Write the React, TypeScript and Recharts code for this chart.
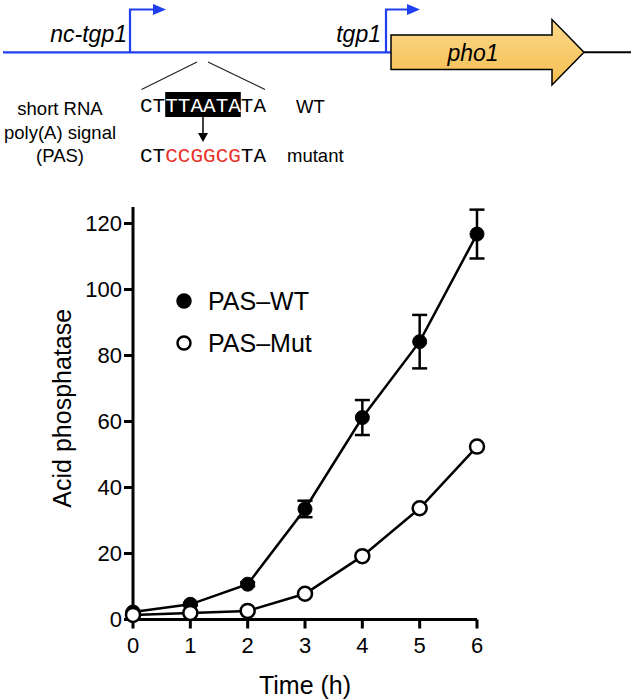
import { LineChart, Line, XAxis, YAxis, ErrorBar, Legend } from "recharts";

const hours = [0, 1, 2, 3, 4, 5, 6];
const pasWt = [2.3, 4.6, 10.7, 33.5, 61.2, 84.2, 116.8];
const pasWtSd = [0.3, 0.4, 0.6, 2.5, 5.3, 8.1, 7.4];
const pasMut = [1.4, 2.0, 2.6, 7.8, 19.2, 33.7, 52.4];
const yTicks = [0, 20, 40, 60, 80, 100, 120];

const data = hours.map((t, i) => ({ t, wt: pasWt[i], wtSd: pasWtSd[i], mut: pasMut[i] }));

const font = "'Liberation Sans', Arial, sans-serif";
const mono = "'Liberation Mono', 'Courier New', monospace";
const blue = "#1f3ff0";

const legendItems = [
  { label: "PAS–WT", fill: "#000" },
  { label: "PAS–Mut", fill: "#fff" },
];

const renderLegend = () => (
  <svg width={170} height={80}>
    {legendItems.map((it, i) => (
      <g key={it.label} transform={`translate(0, ${i * 42})`}>
        <circle cx={14} cy={20} r={6.5} fill={it.fill} stroke="#000" strokeWidth={2.5} />
        <text x={38} y={29} fontSize={25} fontFamily={font} fill="#000">
          {it.label}
        </text>
      </g>
    ))}
  </svg>
);

const YLabel = (props: any) => {
  const { x, y, height } = props.viewBox;
  const cx = x + 22;
  const cy = y + height / 2 - 5;
  return (
    <text
      x={cx}
      y={cy}
      transform={`rotate(-90, ${cx}, ${cy})`}
      textAnchor="middle"
      dominantBaseline="central"
      fontSize={25}
      fontFamily={font}
      fill="#000"
    >
      Acid phosphatase
    </text>
  );
};

// gene schematic above the plot
const Diagram = () => (
  <svg width={633} height={180} style={{ position: "absolute", left: 0, top: 0 }}>
    <line x1={3} y1={52.3} x2={392} y2={52.3} stroke={blue} strokeWidth={2.2} />
    <line x1={584} y1={52.3} x2={631} y2={52.3} stroke="#000" strokeWidth={2} />

    <polyline points="130,52.3 130,9.5 155,9.5" fill="none" stroke={blue} strokeWidth={2.2} />
    <polygon points="153,4 166,9.5 153,15" fill={blue} />
    <polyline points="386,52.3 386,9.5 409,9.5" fill="none" stroke={blue} strokeWidth={2.2} />
    <polygon points="407,4 420,9.5 407,15" fill={blue} />

    <defs>
      <linearGradient id="pho" x1="0" y1="0" x2="0" y2="1">
        <stop offset="0" stopColor="#fcd98a" />
        <stop offset="1" stopColor="#f5bd50" />
      </linearGradient>
    </defs>
    <polygon
      points="391,35 552,35 552,19.5 584,52.3 552,85 552,69.5 391,69.5"
      fill="url(#pho)"
      stroke="#000"
      strokeWidth={1.5}
    />
    <text x={473} y={61} textAnchor="middle" fontSize={23} fontStyle="italic" fontFamily={font}>
      pho1
    </text>
    <text x={127} y={42} textAnchor="end" fontSize={23} fontStyle="italic" fontFamily={font}>
      nc-tgp1
    </text>
    <text x={381} y={42} textAnchor="end" fontSize={23} fontStyle="italic" fontFamily={font}>
      tgp1
    </text>

    <line x1={197} y1={62} x2={141.5} y2={89.5} stroke="#222" strokeWidth={1.2} />
    <line x1={208} y1={62} x2={265} y2={89.5} stroke="#222" strokeWidth={1.2} />

    <rect x={165.2} y={92} width={75.6} height={25} fill="#000" />
    <text x={140} y={111.5} fontSize={21} fontFamily={mono} fill="#000">
      CT<tspan fill="#fff">TTAATA</tspan>TA
    </text>
    <line x1={203} y1={117} x2={203} y2={134} stroke="#000" strokeWidth={1.5} />
    <polygon points="198,133 208,133 203,142" fill="#000" />
    <text x={140} y={161.5} fontSize={21} fontFamily={mono} fill="#000">
      CT<tspan fill="#e8322a">CCGGCG</tspan>TA
    </text>

    <text x={296} y={112.5} fontSize={18.5} fontFamily={font}>WT</text>
    <text x={287} y={161.5} fontSize={18.5} fontFamily={font}>mutant</text>

    <text x={60} y={115} textAnchor="middle" fontSize={18.5} fontFamily={font}>short RNA</text>
    <text x={60} y={138.5} textAnchor="middle" fontSize={18.5} fontFamily={font}>poly(A) signal</text>
    <text x={60} y={162} textAnchor="middle" fontSize={18.5} fontFamily={font}>(PAS)</text>
  </svg>
);

export default function App() {
  return (
    <div style={{ position: "absolute", left: 0, top: 0, width: 633, height: 699, background: "#fff" }}>
      <LineChart
        width={633}
        height={699}
        data={data}
        margin={{ top: 207, right: 156, bottom: 29.5, left: 40 }}
      >
        <XAxis
          dataKey="t"
          type="number"
          domain={[0, 6]}
          ticks={hours}
          height={50}
          stroke="#000"
          strokeWidth={3}
          tickSize={9}
          tickMargin={9}
          tick={{ fill: "#000", fontSize: 22, fontFamily: font }}
          label={{ value: "Time (h)", position: "bottom", offset: 6.5, fontSize: 25, fontFamily: font, fill: "#000" }}
        />
        <YAxis
          type="number"
          domain={[0, 125]}
          ticks={yTicks}
          width={93}
          stroke="#000"
          strokeWidth={3}
          tickSize={9}
          tickMargin={2}
          tick={{ fill: "#000", fontSize: 22, fontFamily: font }}
          label={<YLabel />}
        />
        <Legend
          layout="vertical"
          align="center"
          verticalAlign="middle"
          content={renderLegend}
          wrapperStyle={{ left: 170, top: 281, width: 170, height: 80 }}
        />
        <Line
          dataKey="wt"
          name="PAS–WT"
          stroke="#000"
          strokeWidth={2.5}
          dot={{ r: 7, fill: "#000", stroke: "#000", strokeWidth: 1 }}
          isAnimationActive={false}
        >
          <ErrorBar dataKey="wtSd" direction="y" width={7.5} stroke="#000" strokeWidth={2.5} />
        </Line>
        <Line
          dataKey="mut"
          name="PAS–Mut"
          stroke="#000"
          strokeWidth={2.5}
          dot={{ r: 7, fill: "#fff", stroke: "#000", strokeWidth: 2.5 }}
          isAnimationActive={false}
        />
      </LineChart>
      <Diagram />
    </div>
  );
}
